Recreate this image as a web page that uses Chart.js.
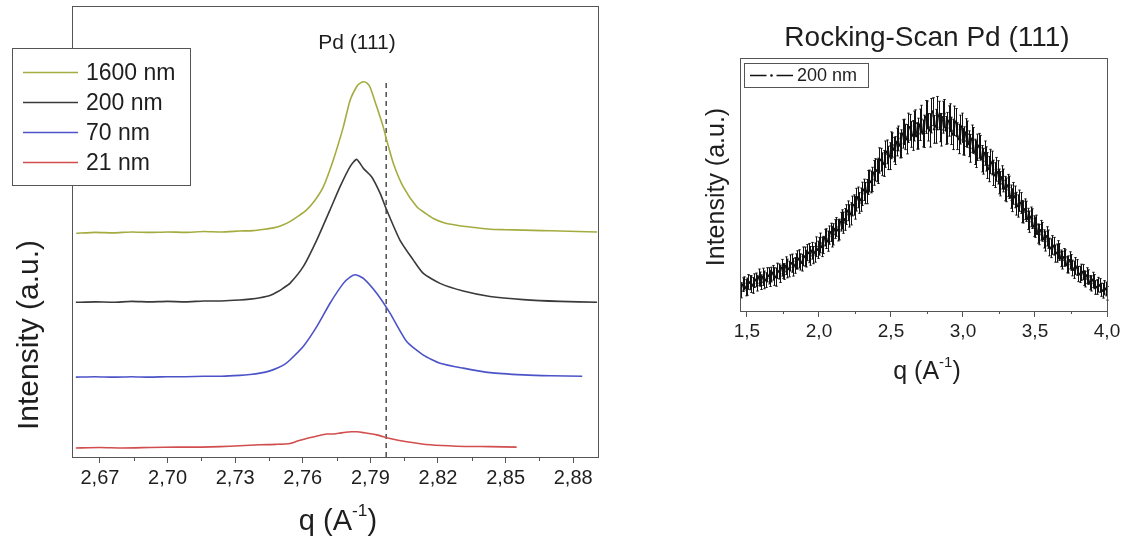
<!DOCTYPE html>
<html>
<head>
<meta charset="utf-8">
<script src="https://cdn.jsdelivr.net/npm/chart.js@4.4.1/dist/chart.umd.min.js"></script>
<style>
  html, body { margin: 0; padding: 0; background: #fff; }
  body { width: 1126px; height: 544px; position: relative; overflow: hidden; }
  canvas { position: absolute; top: 0; }
  #xrd { left: 0; }
  #rocking { left: 660px; }
</style>
</head>
<body>
<canvas id="xrd" width="620" height="544"></canvas>
<canvas id="rocking" width="466" height="544"></canvas>
<script>
const FONT = "'Liberation Sans', Arial, Helvetica, sans-serif";
const INK = '#1e1e1e';
const FRAME = '#555';

// Pd (111) reflection for each film thickness, stacked (q in 1/A, intensity a.u.)
const q1600 = [2.6595, 2.668, 2.676, 2.684, 2.692, 2.700, 2.708, 2.716, 2.724, 2.732, 2.738, 2.743, 2.747, 2.750,
  2.7543, 2.758, 2.7617, 2.7655, 2.7691, 2.7735, 2.7780, 2.7810, 2.7839, 2.7855, 2.7872, 2.7885, 2.7898, 2.7928,
  2.7957, 2.7972, 2.8002, 2.8046, 2.8106, 2.8145, 2.8179, 2.8230, 2.8283, 2.836, 2.8431, 2.850, 2.8579, 2.866,
  2.8741, 2.882, 2.8906];
const i1600 = [49.6, 49.8, 49.7, 49.9, 49.8, 49.9, 49.8, 50.0, 49.9, 50.1, 50.2, 50.5, 50.8, 51.2,
  52.2, 53.4, 54.8, 57.0, 59.9, 65.8, 73.2, 79.1, 82.1, 82.9, 83.2, 82.9, 82.1, 77.7,
  73.2, 70.3, 65.1, 59.9, 55.5, 54.0, 52.9, 51.9, 51.4, 50.9, 50.5, 50.4, 50.3, 50.2,
  50.1, 50.0, 49.9];

const q200 = [2.6593, 2.668, 2.676, 2.684, 2.692, 2.700, 2.708, 2.716, 2.724, 2.732, 2.7366, 2.741, 2.7454, 2.7490,
  2.7512, 2.7543, 2.7602, 2.7662, 2.7721, 2.7765, 2.7810, 2.7839, 2.7869, 2.7906, 2.7943, 2.7972, 2.8031, 2.8090,
  2.8135, 2.8209, 2.8312, 2.8431, 2.8579, 2.8741, 2.8906];
const i200 = [34.3, 34.4, 34.3, 34.5, 34.4, 34.5, 34.4, 34.6, 34.6, 34.8, 35.0, 35.3, 35.8, 36.7,
  37.4, 38.5, 42.2, 48.1, 54.8, 59.9, 64.4, 66.0, 64.0, 62.1, 58.5, 54.8, 48.1, 43.7,
  40.7, 38.5, 36.8, 35.6, 34.9, 34.5, 34.3];

const q70 = [2.6593, 2.668, 2.676, 2.684, 2.692, 2.700, 2.708, 2.716, 2.724, 2.732, 2.7366, 2.741, 2.7454, 2.7490,
  2.7521, 2.7543, 2.7602, 2.7662, 2.7721, 2.7780, 2.7810, 2.7835, 2.7869, 2.7928, 2.7987, 2.8061, 2.8135, 2.8209,
  2.8312, 2.8431, 2.8579, 2.8700, 2.8840];
const i70 = [17.7, 17.8, 17.7, 17.8, 17.7, 17.8, 17.8, 17.9, 17.9, 18.1, 18.3, 18.6, 19.1, 19.8,
  20.6, 21.5, 24.5, 28.9, 34.1, 38.5, 39.9, 40.4, 39.6, 36.3, 31.9, 25.6, 22.6, 20.8,
  19.7, 18.7, 18.2, 18.0, 17.9];

const q21 = [2.6593, 2.670, 2.680, 2.692, 2.705, 2.715, 2.7233, 2.732, 2.741, 2.748, 2.7543, 2.7580, 2.7617, 2.7660,
  2.7706, 2.7740, 2.7765, 2.7790, 2.7817, 2.7840, 2.7869, 2.7928, 2.7987, 2.8061, 2.8165, 2.8283, 2.8431, 2.8549];
const i21 = [2.0, 2.1, 2.0, 2.1, 2.2, 2.2, 2.3, 2.5, 2.7, 2.8, 3.0, 3.6, 4.1, 4.6,
  5.1, 5.1, 5.3, 5.5, 5.6, 5.6, 5.4, 4.9, 4.1, 3.4, 2.7, 2.4, 2.3, 2.2];

const pdBulkQ = 2.797;   // bulk Pd (111)
const pdBulkTop = 83.6;
const xrdTicks = [2.67, 2.70, 2.73, 2.76, 2.79, 2.82, 2.85, 2.88];
const xrdMinorTicks = [2.685, 2.715, 2.745, 2.775, 2.805, 2.835, 2.865];

// rocking scan, 200 nm film
const rockQ = [
  1.46, 1.47, 1.48, 1.49, 1.50, 1.51, 1.52, 1.53, 1.54, 1.55,
  1.56, 1.57, 1.58, 1.59, 1.60, 1.61, 1.62, 1.63, 1.64, 1.65,
  1.66, 1.67, 1.68, 1.69, 1.70, 1.71, 1.72, 1.73, 1.74, 1.75,
  1.76, 1.77, 1.78, 1.79, 1.80, 1.81, 1.82, 1.83, 1.84, 1.85,
  1.86, 1.87, 1.88, 1.89, 1.90, 1.91, 1.92, 1.93, 1.94, 1.95,
  1.96, 1.97, 1.98, 1.99, 2.00, 2.01, 2.02, 2.03, 2.04, 2.05,
  2.06, 2.07, 2.08, 2.09, 2.10, 2.11, 2.12, 2.13, 2.14, 2.15,
  2.16, 2.17, 2.18, 2.19, 2.20, 2.21, 2.22, 2.23, 2.24, 2.25,
  2.26, 2.27, 2.28, 2.29, 2.30, 2.31, 2.32, 2.33, 2.34, 2.35,
  2.36, 2.37, 2.38, 2.39, 2.40, 2.41, 2.42, 2.43, 2.44, 2.45,
  2.46, 2.47, 2.48, 2.49, 2.50, 2.51, 2.52, 2.53, 2.54, 2.55,
  2.56, 2.57, 2.58, 2.59, 2.60, 2.61, 2.62, 2.63, 2.64, 2.65,
  2.66, 2.67, 2.68, 2.69, 2.70, 2.71, 2.72, 2.73, 2.74, 2.75,
  2.76, 2.77, 2.78, 2.79, 2.80, 2.81, 2.82, 2.83, 2.84, 2.85,
  2.86, 2.87, 2.88, 2.89, 2.90, 2.91, 2.92, 2.93, 2.94, 2.95,
  2.96, 2.97, 2.98, 2.99, 3.00, 3.01, 3.02, 3.03, 3.04, 3.05,
  3.06, 3.07, 3.08, 3.09, 3.10, 3.11, 3.12, 3.13, 3.14, 3.15,
  3.16, 3.17, 3.18, 3.19, 3.20, 3.21, 3.22, 3.23, 3.24, 3.25,
  3.26, 3.27, 3.28, 3.29, 3.30, 3.31, 3.32, 3.33, 3.34, 3.35,
  3.36, 3.37, 3.38, 3.39, 3.40, 3.41, 3.42, 3.43, 3.44, 3.45,
  3.46, 3.47, 3.48, 3.49, 3.50, 3.51, 3.52, 3.53, 3.54, 3.55,
  3.56, 3.57, 3.58, 3.59, 3.60, 3.61, 3.62, 3.63, 3.64, 3.65,
  3.66, 3.67, 3.68, 3.69, 3.70, 3.71, 3.72, 3.73, 3.74, 3.75,
  3.76, 3.77, 3.78, 3.79, 3.80, 3.81, 3.82, 3.83, 3.84, 3.85,
  3.86, 3.87, 3.88, 3.89, 3.90, 3.91, 3.92, 3.93, 3.94, 3.95,
  3.96, 3.97, 3.98, 3.99, 4.00];
const rockI = [
  8.2, 10.4, 10.9, 9.2, 9.6, 11.5, 11.2, 10.6, 10.1, 12.0,
  12.3, 11.0, 13.3, 12.6, 11.4, 13.5, 12.3, 12.2, 14.3, 13.9,
  12.9, 14.4, 15.1, 13.6, 13.4, 15.9, 15.6, 14.7, 17.1, 15.8,
  15.6, 17.9, 16.8, 16.6, 19.0, 18.9, 17.3, 18.0, 19.6, 20.2,
  20.6, 19.4, 19.1, 21.6, 21.5, 20.7, 23.1, 22.9, 21.8, 23.8,
  22.1, 23.1, 25.4, 24.2, 25.6, 26.9, 25.3, 26.1, 29.0, 28.6,
  27.6, 30.0, 31.1, 29.4, 30.3, 32.4, 33.2, 31.9, 32.2, 35.3,
  36.2, 34.9, 36.2, 38.1, 39.6, 37.6, 38.4, 41.5, 41.9, 40.8,
  44.0, 44.9, 42.7, 44.0, 46.3, 47.9, 46.6, 47.2, 50.8, 51.4,
  51.0, 52.0, 54.6, 55.8, 55.5, 55.4, 59.5, 59.8, 58.0, 58.3,
  62.0, 62.9, 60.5, 61.2, 65.5, 65.6, 63.8, 63.4, 66.8, 68.2,
  65.4, 66.1, 70.0, 70.8, 68.8, 67.9, 72.4, 72.6, 69.8, 69.4,
  73.1, 74.2, 69.2, 70.1, 73.6, 75.9, 70.2, 71.0, 76.7, 77.5,
  72.6, 71.4, 77.2, 78.8, 71.8, 73.0, 78.2, 77.3, 72.5, 71.6,
  76.6, 78.0, 71.4, 72.3, 75.1, 76.4, 71.2, 69.8, 75.2, 74.6,
  69.1, 68.0, 71.7, 72.9, 66.9, 67.2, 70.5, 69.9, 66.1, 64.3,
  68.1, 67.4, 62.9, 62.0, 64.7, 65.3, 64.5, 60.2, 59.2, 62.4,
  60.1, 57.5, 56.1, 59.1, 58.5, 54.6, 53.7, 56.0, 54.8, 51.2,
  50.3, 52.8, 51.6, 48.4, 47.9, 49.6, 48.9, 45.2, 43.8, 46.5,
  45.1, 42.4, 41.5, 43.6, 42.7, 39.3, 39.1, 40.2, 39.4, 36.4,
  35.3, 37.2, 36.5, 33.5, 33.1, 34.1, 30.6, 30.2, 31.9, 31.3,
  28.5, 27.6, 29.5, 28.4, 25.3, 24.8, 26.1, 25.6, 22.7, 22.9,
  24.2, 23.3, 20.8, 20.1, 21.2, 21.0, 18.3, 18.4, 20.0, 19.2,
  17.0, 16.3, 17.8, 17.2, 14.6, 14.5, 15.3, 15.4, 13.0, 12.6,
  14.0, 13.4, 11.2, 10.9, 12.3, 11.6, 9.3, 9.5, 10.4, 10.1,
  8.4, 8.0, 9.2, 8.7, 7.0];
const rockErr = [
  3.0, 2.7, 2.6, 3.2, 3.4, 2.9, 2.8, 3.3, 3.1, 2.7,
  2.7, 3.1, 3.3, 2.8, 2.9, 3.4, 3.5, 2.9, 2.8, 3.2,
  3.2, 2.9, 2.9, 3.5, 3.6, 3.0, 3.0, 3.4, 3.3, 2.9,
  3.1, 3.5, 3.7, 3.1, 3.2, 3.6, 3.5, 3.1, 3.0, 3.6,
  3.6, 3.2, 3.3, 3.7, 3.8, 3.3, 3.2, 3.8, 3.7, 3.3,
  3.4, 3.8, 3.9, 3.4, 3.5, 3.9, 3.8, 3.4, 3.3, 3.9,
  4.0, 3.6, 3.6, 4.1, 4.2, 3.7, 3.7, 4.2, 4.1, 3.7,
  3.8, 4.2, 4.3, 3.9, 3.9, 4.4, 4.4, 3.9, 4.0, 4.5,
  4.5, 4.1, 4.1, 4.6, 4.6, 4.2, 4.2, 4.8, 4.7, 4.3,
  4.3, 4.8, 4.9, 4.4, 4.4, 5.0, 5.0, 4.5, 4.5, 5.1,
  5.2, 4.7, 4.6, 5.3, 5.3, 4.8, 4.8, 5.5, 5.5, 4.9,
  4.9, 5.5, 5.6, 5.0, 5.0, 5.8, 5.8, 5.1, 5.1, 5.9,
  5.9, 5.3, 5.2, 6.1, 6.2, 5.4, 5.3, 6.4, 6.5, 5.5,
  5.4, 6.6, 6.8, 5.5, 5.5, 6.7, 6.6, 5.6, 5.6, 6.4,
  6.3, 5.6, 5.5, 6.2, 6.0, 5.5, 5.4, 6.0, 5.8, 5.4,
  5.3, 5.8, 5.7, 5.3, 5.2, 5.6, 5.5, 5.2, 5.1, 5.5,
  5.4, 5.1, 5.0, 5.3, 5.2, 4.9, 4.9, 5.2, 5.1, 4.8,
  4.8, 5.1, 5.0, 4.8, 4.7, 5.0, 4.9, 4.7, 4.6, 4.9,
  4.8, 4.6, 4.5, 4.8, 4.7, 4.4, 4.4, 4.6, 4.5, 4.3,
  4.3, 4.5, 4.4, 4.2, 4.1, 4.4, 4.3, 4.1, 4.0, 4.2,
  4.2, 3.9, 3.9, 4.1, 4.0, 3.8, 3.8, 4.0, 3.9, 3.7,
  3.6, 3.9, 3.8, 3.6, 3.5, 3.7, 3.7, 3.5, 3.4, 3.6,
  3.6, 3.3, 3.3, 3.5, 3.5, 3.2, 3.2, 3.4, 3.4, 3.1,
  3.1, 3.4, 3.3, 3.1, 3.0, 3.2, 3.2, 3.0, 2.9, 3.1,
  3.1, 2.9, 2.8, 3.0, 3.0, 2.8, 2.7, 2.9, 2.9, 2.7,
  2.6, 2.9, 2.8, 2.7, 2.7];
const rockTicks = [1.5, 2.0, 2.5, 3.0, 3.5, 4.0];
const rockMinorTicks = [1.75, 2.25, 2.75, 3.25, 3.75];

const pts = (xs, ys) => xs.map((x, i) => ({ x, y: ys[i] }));
const QLABEL = [{ t: 'q (A' }, { t: '-1', sup: true }, { t: ')' }];

// text with optional superscript parts, centred on (0, 0)
function drawRich(ctx, parts, size) {
  const fontOf = p => `${p.sup ? size * 0.6 : size}px ${FONT}`;
  const widths = parts.map(p => { ctx.font = fontOf(p); return ctx.measureText(p.t).width; });
  let x = -widths.reduce((a, b) => a + b, 0) / 2;
  ctx.textAlign = 'left';
  ctx.textBaseline = 'middle';
  parts.forEach((p, i) => {
    ctx.font = fontOf(p);
    ctx.fillText(p.t, x, p.sup ? -size * 0.38 : 0);
    x += widths[i];
  });
}

// box around the plot + short minor ticks on the q axis
const framePlugin = {
  id: 'frame',
  afterDraw(chart, args, opts) {
    const { ctx, chartArea: a } = chart;
    const x = chart.scales.x;
    ctx.save();
    ctx.strokeStyle = FRAME;
    ctx.lineWidth = 1;
    ctx.strokeRect(Math.round(a.left) + 0.5, Math.round(a.top) + 0.5,
      Math.round(a.right - a.left), Math.round(a.bottom - a.top));
    ctx.beginPath();
    (opts.minor || []).forEach(v => {
      const px = Math.round(x.getPixelForValue(v)) + 0.5;
      ctx.moveTo(px, a.bottom);
      ctx.lineTo(px, a.bottom + opts.minorLength);
    });
    ctx.stroke();
    ctx.restore();
  }
};

const captionPlugin = {
  id: 'captions',
  afterDraw(chart, args, opts) {
    const ctx = chart.ctx;
    (opts.items || []).forEach(it => {
      ctx.save();
      ctx.fillStyle = it.color || INK;
      ctx.translate(it.x, it.y);
      if (it.rotate) ctx.rotate(it.rotate);
      drawRich(ctx, it.parts || [{ t: it.text }], it.size);
      ctx.restore();
    });
  }
};

const boxLegendPlugin = {
  id: 'boxLegend',
  afterDraw(chart, args, o) {
    const ctx = chart.ctx;
    const items = chart.data.datasets.filter(d => d.label);
    ctx.save();
    ctx.fillStyle = '#fff';
    ctx.fillRect(o.x, o.y, o.w, o.h);
    ctx.strokeStyle = FRAME;
    ctx.lineWidth = 1;
    ctx.strokeRect(o.x + 0.5, o.y + 0.5, o.w, o.h);
    ctx.font = `${o.size}px ${FONT}`;
    ctx.textBaseline = 'middle';
    ctx.textAlign = 'left';
    items.forEach((d, i) => {
      const y = Math.round(o.firstRow + i * o.rowStep) + 0.5;
      ctx.strokeStyle = d.borderColor;
      ctx.fillStyle = d.borderColor;
      ctx.lineWidth = 1.3;
      ctx.beginPath();
      if (o.withDot) {
        const mid = (o.lineFrom + o.lineTo) / 2;
        ctx.moveTo(o.lineFrom, y); ctx.lineTo(mid - 5, y);
        ctx.moveTo(mid + 5, y); ctx.lineTo(o.lineTo, y);
        ctx.stroke();
        ctx.beginPath();
        ctx.arc(mid, y, 1.3, 0, Math.PI * 2);
        ctx.fill();
      } else {
        ctx.moveTo(o.lineFrom, y); ctx.lineTo(o.lineTo, y);
        ctx.stroke();
      }
      ctx.fillStyle = INK;
      ctx.fillText(d.label, o.textX, y + 1);
    });
    ctx.restore();
  }
};

// vertical error bars of the rocking scan
const errorBarPlugin = {
  id: 'errorBars',
  afterDatasetsDraw(chart, args, opts) {
    if (!opts.values) return;
    const { ctx } = chart;
    const y = chart.scales.y;
    const meta = chart.getDatasetMeta(0);
    const ys = chart.data.datasets[0].data;
    ctx.save();
    ctx.strokeStyle = '#111';
    ctx.lineWidth = 1;
    ctx.beginPath();
    meta.data.forEach((p, i) => {
      const top = y.getPixelForValue(ys[i].y + opts.values[i]);
      const bot = y.getPixelForValue(ys[i].y - opts.values[i]);
      const px = Math.round(p.x) + 0.5;
      ctx.moveTo(px, top); ctx.lineTo(px, bot);
      ctx.moveTo(px - 1.2, top); ctx.lineTo(px + 1.2, top);
      ctx.moveTo(px - 1.2, bot); ctx.lineTo(px + 1.2, bot);
    });
    ctx.stroke();
    ctx.restore();
  }
};

Chart.register(framePlugin, captionPlugin, boxLegendPlugin, errorBarPlugin);

function axisX(min, max, ticks, fmt, height, fontSize) {
  return {
    type: 'linear', min, max,
    afterBuildTicks: s => { s.ticks = ticks.map(value => ({ value })); },
    afterFit: s => { s.height = height; },
    grid: { display: true, drawOnChartArea: false, drawTicks: true, tickLength: 6, tickColor: FRAME, tickWidth: 1 },
    border: { display: false },
    ticks: {
      padding: 3, color: INK, maxRotation: 0, autoSkip: false,
      font: { family: FONT, size: fontSize },
      callback: v => v.toFixed(fmt).replace('.', ',')
    }
  };
}

function axisY(width) {
  return {
    min: 0, max: 100,
    afterFit: s => { s.width = width; },
    ticks: { display: false },
    grid: { display: false },
    border: { display: false }
  };
}

const lineSet = (label, xs, ys, color) => ({
  label, data: pts(xs, ys), borderColor: color, backgroundColor: color,
  borderWidth: 1.6, pointRadius: 0, tension: 0.2
});

new Chart(document.getElementById('xrd'), {
  type: 'line',
  data: {
    datasets: [
      lineSet('1600 nm', q1600, i1600, '#a4ac40'),
      lineSet('200 nm', q200, i200, '#3a3a3a'),
      lineSet('70 nm', q70, i70, '#4c53c8'),
      lineSet('21 nm', q21, i21, '#d24d4d'),
      {
        label: '', data: pts([pdBulkQ, pdBulkQ], [0, pdBulkTop]),
        borderColor: '#333', borderWidth: 1.3, borderDash: [5, 4], pointRadius: 0
      }
    ]
  },
  options: {
    responsive: false,
    animation: false,
    layout: { padding: { top: 6, right: 22, left: 0, bottom: 0 } },
    scales: {
      x: axisX(2.6576, 2.891, xrdTicks, 2, 87, 20),
      y: axisY(72)
    },
    plugins: {
      legend: { display: false },
      tooltip: { enabled: false },
      frame: { minor: xrdMinorTicks, minorLength: 4 },
      boxLegend: {
        x: 12, y: 48, w: 178, h: 137, size: 23,
        firstRow: 71.5, rowStep: 30.3, lineFrom: 23, lineTo: 78, textX: 86
      },
      captions: {
        items: [
          { text: 'Pd (111)', x: 357, y: 43, size: 21 },
          { text: 'Intensity (a.u.)', x: 30, y: 335, size: 30, rotate: -Math.PI / 2 },
          { parts: QLABEL, x: 338, y: 522, size: 29 }
        ]
      }
    }
  }
});

new Chart(document.getElementById('rocking'), {
  type: 'line',
  data: {
    datasets: [{
      label: '200 nm', data: pts(rockQ, rockI),
      borderColor: '#111', backgroundColor: '#111', borderWidth: 1,
      pointRadius: 1.3, pointBorderWidth: 0, pointBackgroundColor: '#111', tension: 0
    }]
  },
  options: {
    responsive: false,
    animation: false,
    layout: { padding: { top: 58, right: 19, left: 0, bottom: 0 } },
    scales: {
      x: axisX(1.4515, 4.0, rockTicks, 1, 233, 19),
      y: axisY(80)
    },
    plugins: {
      legend: { display: false },
      tooltip: { enabled: false },
      frame: { minor: rockMinorTicks, minorLength: 3 },
      errorBars: { values: rockErr },
      boxLegend: {
        x: 84, y: 63, w: 124, h: 24, size: 18, withDot: true,
        firstRow: 75, rowStep: 0, lineFrom: 90, lineTo: 133, textX: 137
      },
      captions: {
        items: [
          { text: 'Rocking-Scan Pd (111)', x: 267, y: 38, size: 28 },
          { text: 'Intensity (a.u.)', x: 57, y: 187, size: 25, rotate: -Math.PI / 2 },
          { parts: QLABEL, x: 267, y: 372, size: 25 }
        ]
      }
    }
  }
});
</script>
</body>
</html>
